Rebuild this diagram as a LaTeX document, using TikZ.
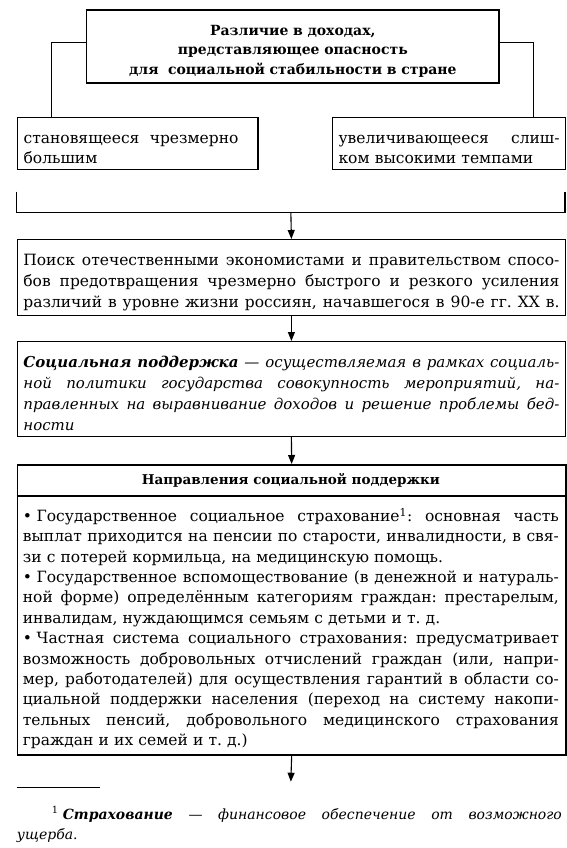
\documentclass[tikz,border=0pt]{standalone}
\usepackage{fontspec}
\setmainfont{DejaVu Serif}
\usetikzlibrary{arrows.meta}
\newlength{\bw}
\setlength{\bw}{100pt}
\newcommand{\JL}[1]{\par\hbox to \bw{\spaceskip=\fontdimen2\font plus 1fil minus \fontdimen4\font\relax #1}}
\newcommand{\LL}[1]{\par\hbox to \bw{#1\hfill}}
\newcommand{\CL}[1]{\par\hbox to \bw{\hfill#1\hfill}}
\newcommand{\bul}{•\hspace{0.3em}}
\begin{document}
\frenchspacing
\begin{tikzpicture}[x=1pt,y=-1pt,
  every node/.style={font=\fontsize{15.5pt}{20.5pt}\selectfont},
  box/.style={draw, line width=1.1pt, inner sep=0pt, anchor=north west},
  thickbox/.style={box, line width=1.6pt},
  txt/.style={inner sep=0pt},
  conn/.style={line width=1.1pt},
  arr/.style={line width=1.1pt, -{Triangle[length=9pt,width=7pt]}}]
\useasboundingbox (0,0) rectangle (566,848);
% top box
\node[thickbox, minimum width=412.6pt, minimum height=73pt, text width=400pt,
      font=\fontsize{14pt}{19.5pt}\selectfont\bfseries] (top) at (85.7,9)
  {\setlength{\bw}{400pt}\frenchspacing
   \CL{Различие в доходах,}\CL{представляющее опасность}\CL{для\ \ социальной стабильности в стране}};
% second level
\node[box, minimum width=240.7pt, minimum height=52.3pt, text width=228pt] (lbox) at (16.7,116.7)
  {\setlength{\bw}{228pt}\frenchspacing
   \LL{становящееся\ \ чрезмерно}\LL{большим}};
\node[box, minimum width=233pt, minimum height=52.3pt, text width=221pt] (rbox) at (332,116.7)
  {\setlength{\bw}{221pt}\frenchspacing
   \JL{увеличивающееся слиш-}\LL{ком высокими темпами}};
\draw[conn] ([yshift=3.8pt]top.west) -| ([xshift=35pt]lbox.north west);
\draw[conn] ([yshift=3.8pt]top.east) -| ([xshift=-32.3pt]rbox.north east);
% bracket
\coordinate (bl) at (16.7,191.7);
\coordinate (br) at (565,191.7);
\coordinate (bm) at (290.85,212.3);
\draw[conn] (bl) |- (bm) -| (br);
% box 2
\node[box, minimum width=548.3pt, minimum height=76pt, text width=536pt, font=\fontsize{15.5pt}{21pt}\selectfont] (b2) at (16.7,239)
  {\setlength{\bw}{536pt}\frenchspacing
   \JL{Поиск отечественными экономистами и правительством спосо-}%
   \JL{бов предотвращения чрезмерно быстрого и резкого усиления}%
   \JL{различий в уровне жизни россиян, начавшегося в 90-е гг. XX в.}};
\draw[arr] (bm) -- (b2.north);
% box 3
\node[box, minimum width=548.3pt, minimum height=94.7pt, text width=536pt, font=\fontsize{15pt}{21pt}\selectfont\itshape] (b3) at (16.7,341)
  {\setlength{\bw}{536pt}\frenchspacing
   \JL{\textbf{Социальная поддержка} — осуществляемая в рамках социаль-}%
   \JL{ной политики государства совокупность мероприятий, на-}%
   \JL{правленных на выравнивание доходов и решение проблемы бед-}%
   \LL{ности}};
\draw[arr] (b2.south) -- (b3.north);
% box 4
\node[thickbox, minimum width=548.3pt, minimum height=290pt] (b4) at (16.7,464) {};
\coordinate (sep) at (16.7,496);
\draw[conn] (sep) -- (sep -| b4.east);
\node[txt, font=\fontsize{13.5pt}{20pt}\selectfont\bfseries] (t4) at (290.85,480.5) {Направления социальной поддержки};
\node[txt, text width=536pt, font=\fontsize{15.5pt}{20.4pt}\selectfont] (b4t) at (290.85,625)
  {\setlength{\bw}{536pt}\frenchspacing
   \JL{\bul Государственное социальное страхование\textsuperscript{1}: основная часть}%
   \JL{выплат приходится на пенсии по старости, инвалидности, в свя-}%
   \LL{зи с потерей кормильца, на медицинскую помощь.}%
   \JL{\bul Государственное вспомоществование (в денежной и натураль-}%
   \JL{ной форме) определённым категориям граждан: престарелым,}%
   \LL{инвалидам, нуждающимся семьям с детьми и т.~д.}%
   \JL{\bul Частная система социального страхования: предусматривает}%
   \JL{возможность добровольных отчислений граждан (или, напри-}%
   \JL{мер, работодателей) для осуществления гарантий в области со-}%
   \JL{циальной поддержки населения (переход на систему накопи-}%
   \JL{тельных пенсий, добровольного медицинского страхования}%
   \LL{граждан и их семей и т.~д.)}};
\draw[arr] (b3.south) -- (b4.north);
\coordinate (end) at (290.85,781.7);
\draw[arr] (b4.south) -- (end);
% footnote
\coordinate (fr1) at (16.7,787.3);
\coordinate (fr2) at (100,787.3);
\draw[line width=0.9pt] (fr1) -- (fr2);
\node[txt, anchor=north west, text width=545pt, font=\fontsize{14pt}{20.5pt}\selectfont] (fn) at (16.7,798.5)
  {\setlength{\bw}{545pt}\frenchspacing
   \JL{\hspace{35pt}\textsuperscript{1}\hspace{0.3em}\textbf{\textit{Страхование}} — \textit{финансовое обеспечение от возможного}}%
   \LL{\textit{ущерба.}}};
\end{tikzpicture}
\end{document}
